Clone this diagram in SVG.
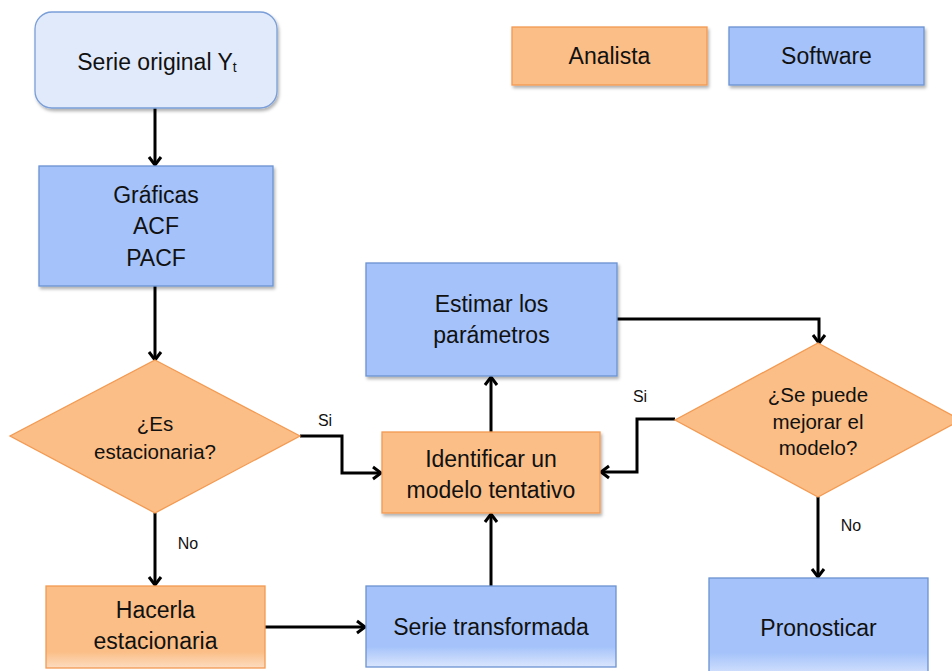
<svg xmlns="http://www.w3.org/2000/svg" width="952" height="671" viewBox="0 0 952 671">
<defs>
<style>
.t{font-family:"Liberation Sans",Arial,sans-serif;font-size:23px;fill:#111;text-anchor:middle}
.d{font-size:20.5px}
.l{font-family:"Liberation Sans",Arial,sans-serif;font-size:16px;fill:#111;text-anchor:middle}
.or{fill:#fbbe86;stroke:#f39a52;stroke-width:1.3}
.bl{fill:#a5c3fa;stroke:#6a92d2;stroke-width:1.3}
.lb{fill:#e1eafb;stroke:#7a9ed8;stroke-width:1.3}
.c{fill:none;stroke:#000;stroke-width:3;marker-end:url(#ah)}
</style>
<marker id="ah" markerUnits="userSpaceOnUse" markerWidth="16" markerHeight="16" refX="11" refY="8" orient="auto">
<path d="M3,2 L11,8 L3,14" fill="none" stroke="#000" stroke-width="3"/>
</marker>
<filter id="sh" x="-10%" y="-10%" width="125%" height="130%">
<feDropShadow dx="1.5" dy="2.5" stdDeviation="1.8" flood-color="#000" flood-opacity="0.3"/>
</filter>
<linearGradient id="fadeB" x1="0" y1="0" x2="0" y2="1">
<stop offset="0.75" stop-color="#a5c3fa"/>
<stop offset="1" stop-color="#dbe6fd"/>
</linearGradient>
<linearGradient id="fadeO" x1="0" y1="0" x2="0" y2="1">
<stop offset="0.8" stop-color="#fbbe86"/>
<stop offset="1" stop-color="#fcdcc0"/>
</linearGradient>
</defs>

<g id="connectors">
<line class="c" x1="155" y1="108" x2="155" y2="165"/>
<line class="c" x1="155" y1="286" x2="155" y2="360"/>
<path class="c" d="M300,436 H342 V473 H381"/>
<line class="c" x1="155" y1="513" x2="155" y2="585"/>
<line class="c" x1="265" y1="627" x2="365" y2="627"/>
<line class="c" x1="491" y1="586" x2="491" y2="514"/>
<line class="c" x1="491" y1="432" x2="491" y2="377"/>
<path class="c" d="M617,319 H819 V343"/>
<path class="c" d="M675,419 H637 V472 H601"/>
<line class="c" x1="818" y1="497" x2="818" y2="577"/>
<text class="l" x="325" y="426">Si</text>
<text class="l" x="188" y="549">No</text>
<text class="l" x="640" y="402">Si</text>
<text class="l" x="851" y="531">No</text>
</g>

<g id="legend-analista">
<rect class="or" x="512" y="27" width="195" height="58" filter="url(#sh)"/>
<text class="t" x="609.5" y="64">Analista</text>
</g>
<g id="legend-software">
<rect class="bl" x="729" y="27" width="195" height="58" filter="url(#sh)"/>
<text class="t" x="826.5" y="64">Software</text>
</g>

<g id="serie-original">
<rect class="lb" x="35" y="12" width="242" height="96" rx="17" filter="url(#sh)"/>
<text class="t" x="157" y="70">Serie original Y<tspan font-size="14" dy="2">t</tspan></text>
</g>

<g id="graficas">
<rect class="bl" x="39" y="166" width="234" height="120" filter="url(#sh)"/>
<text class="t" x="156" y="203">Gráficas</text>
<text class="t" x="156" y="234">ACF</text>
<text class="t" x="156" y="266">PACF</text>
</g>

<g id="es-estacionaria">
<polygon class="or" points="155,360 300,436 155,513 10,436"/>
<text class="t d" x="155" y="431">¿Es</text>
<text class="t d" x="155" y="459">estacionaria?</text>
</g>

<g id="hacerla-estacionaria">
<rect x="46" y="586" width="219" height="82" fill="url(#fadeO)" stroke="#f39a52" stroke-width="1.3"/>
<text class="t" x="155.5" y="618">Hacerla</text>
<text class="t" x="155.5" y="649">estacionaria</text>
</g>

<g id="serie-transformada">
<rect x="366" y="586" width="250" height="81" fill="url(#fadeB)" stroke="#6a92d2" stroke-width="1.3"/>
<text class="t" x="491" y="635">Serie transformada</text>
</g>

<g id="identificar">
<rect class="or" x="382" y="432" width="218" height="81" filter="url(#sh)"/>
<text class="t" x="491" y="467">Identificar un</text>
<text class="t" x="491" y="498">modelo tentativo</text>
</g>

<g id="estimar">
<rect class="bl" x="366" y="263" width="251" height="113" filter="url(#sh)"/>
<text class="t" x="491.5" y="312">Estimar los</text>
<text class="t" x="491.5" y="343">parámetros</text>
</g>

<g id="se-puede-mejorar">
<polygon class="or" points="818,343 961,420 818,497 675,420"/>
<text class="t d" x="818" y="402">¿Se puede</text>
<text class="t d" x="818" y="429">mejorar el</text>
<text class="t d" x="818" y="455">modelo?</text>
</g>

<g id="pronosticar">
<rect x="709" y="578" width="219" height="100" fill="url(#fadeB)" stroke="#6a92d2" stroke-width="1.3"/>
<text class="t" x="818.5" y="636">Pronosticar</text>
</g>
</svg>
